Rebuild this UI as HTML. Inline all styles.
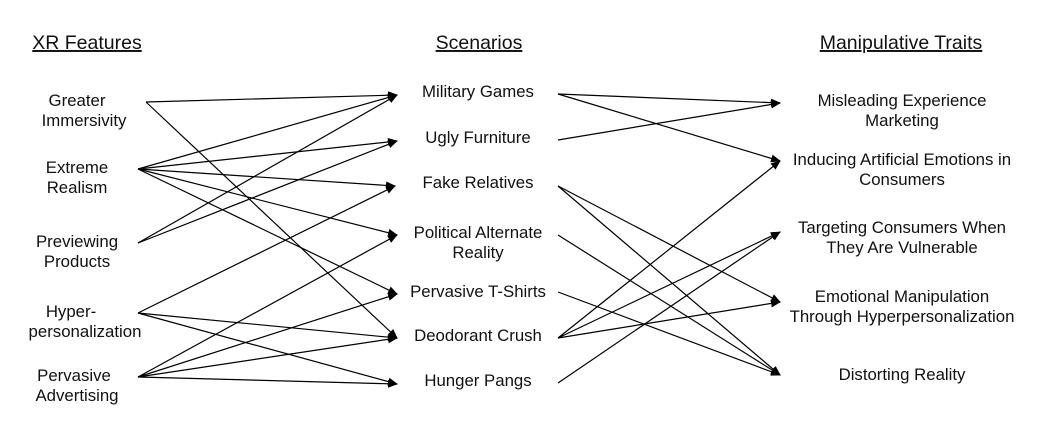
<!DOCTYPE html>
<html><head><style>body{margin:0;background:#fff}svg{display:block}text{font-family:"Liberation Sans",Arial,sans-serif;font-size:16.8px;fill:#111}.h{font-size:19.5px;text-decoration:underline}</style></head><body>
<svg width="1051" height="434" xmlns="http://www.w3.org/2000/svg">
<defs><marker id="a" markerWidth="10" markerHeight="8" refX="9" refY="4" orient="auto" markerUnits="userSpaceOnUse"><path d="M0,0 L10,4 L0,8z" fill="#000"/></marker></defs>
<text class="h" x="87" y="49" text-anchor="middle">XR Features</text>
<text class="h" x="479" y="49" text-anchor="middle">Scenarios</text>
<text class="h" x="901" y="49" text-anchor="middle">Manipulative Traits</text>
<g text-anchor="middle">
<text x="77" y="106">Greater</text><text x="84" y="126">Immersivity</text>
<text x="77" y="173">Extreme</text><text x="77" y="193">Realism</text>
<text x="77" y="247">Previewing</text><text x="77" y="267">Products</text>
<text x="71" y="317">Hyper-</text><text x="85" y="337">personalization</text>
<text x="74" y="381">Pervasive</text><text x="77" y="401">Advertising</text>
<text x="478" y="97">Military Games</text>
<text x="478" y="143">Ugly Furniture</text>
<text x="478" y="188">Fake Relatives</text>
<text x="478" y="238">Political Alternate</text><text x="478" y="258">Reality</text>
<text x="478" y="297">Pervasive T-Shirts</text>
<text x="478" y="341">Deodorant Crush</text>
<text x="478" y="386">Hunger Pangs</text>
<text x="902" y="106">Misleading Experience</text><text x="902" y="126">Marketing</text>
<text x="902" y="165">Inducing Artificial Emotions in</text><text x="902" y="185">Consumers</text>
<text x="902" y="233">Targeting Consumers When</text><text x="902" y="253">They Are Vulnerable</text>
<text x="902" y="302">Emotional Manipulation</text><text x="902" y="322">Through Hyperpersonalization</text>
<text x="902" y="380">Distorting Reality</text>
</g>
<g stroke="#000" stroke-width="1.2" marker-end="url(#a)">
<line x1="146" y1="102" x2="397" y2="95"/>
<line x1="146" y1="102" x2="397" y2="338"/>
<line x1="138" y1="169" x2="397" y2="95"/>
<line x1="138" y1="169" x2="397" y2="141"/>
<line x1="138" y1="169" x2="395" y2="186"/>
<line x1="138" y1="169" x2="397" y2="235"/>
<line x1="138" y1="169" x2="397" y2="294"/>
<line x1="138" y1="243" x2="397" y2="95"/>
<line x1="138" y1="243" x2="397" y2="141"/>
<line x1="138" y1="313" x2="395" y2="186"/>
<line x1="138" y1="313" x2="397" y2="338"/>
<line x1="138" y1="313" x2="397" y2="384"/>
<line x1="138" y1="377" x2="397" y2="235"/>
<line x1="138" y1="377" x2="397" y2="294"/>
<line x1="138" y1="377" x2="397" y2="338"/>
<line x1="138" y1="377" x2="397" y2="384"/>
<line x1="558" y1="94" x2="780" y2="103"/>
<line x1="558" y1="94" x2="780" y2="161"/>
<line x1="558" y1="140" x2="780" y2="103"/>
<line x1="558" y1="186" x2="780" y2="302"/>
<line x1="558" y1="186" x2="780" y2="375"/>
<line x1="558" y1="235" x2="780" y2="375"/>
<line x1="558" y1="292" x2="780" y2="375"/>
<line x1="558" y1="338" x2="780" y2="161"/>
<line x1="558" y1="338" x2="780" y2="232"/>
<line x1="558" y1="338" x2="780" y2="302"/>
<line x1="558" y1="383" x2="780" y2="232"/>
</g>
</svg>
</body></html>
